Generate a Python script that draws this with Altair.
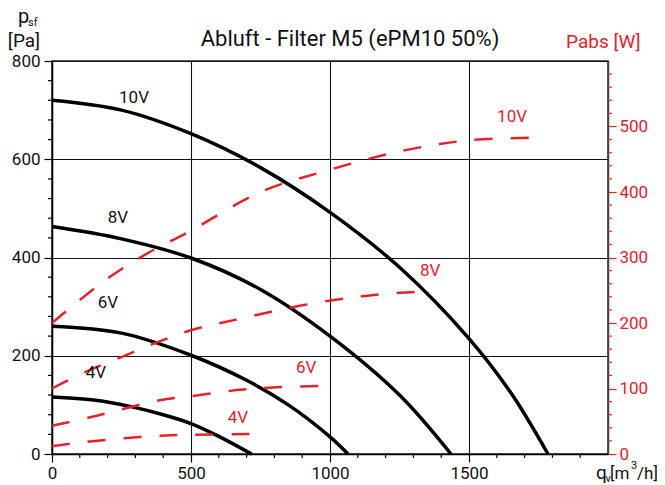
import altair as alt
import pandas as pd

RED = "#e3222b"
FONT = "Roboto"

# ---- Pressure curves p_sf [Pa] vs q_v [m3/h]
q_p10 = [0, 250, 500, 750, 1000, 1250, 1500, 1650, 1784]
p10 = [720, 700, 652, 583, 492, 380, 235, 125, 0]
q_p8 = [0, 250, 500, 750, 1000, 1250, 1435]
p8 = [463, 438, 399, 335, 240, 120, 0]
q_p6 = [0, 250, 500, 700, 850, 1000, 1065]
p6 = [260, 246, 201, 150, 100, 35, 0]
q_p4 = [0, 150, 280, 400, 500, 600, 718]
p4 = [116, 110, 97, 80, 62, 36, 0]

# ---- Power curves Pabs [W] vs q_v [m3/h]
q_w10 = [0, 200, 350, 500, 750, 1000, 1250, 1500, 1750]
w10 = [200, 268, 308, 341, 400, 434, 462, 479, 483]
q_w8 = [0, 125, 250, 375, 500, 650, 900, 1100, 1250, 1355]
w8 = [100, 126, 148, 170, 189, 204, 227, 240, 246, 248]
q_w6 = [0, 137, 388, 532, 676, 809, 1000]
w6 = [43, 56, 82, 90, 98, 102, 104]
q_w4 = [0, 112, 317, 460, 740]
w4 = [12, 18, 26, 29, 30.5]

# ---- Curve labels
lab_text = ["10V", "8V", "6V", "4V"]
lab_q = [295, 237, 201, 158]
lab_p = [725, 480, 307, 165]
rlab_q = [1655, 1360, 914, 669]
rlab_w = [515, 280, 131, 55]

# ---- Axis ticks
x_major = [0, 500, 1000, 1500]
y_major = [0, 200, 400, 600, 800]
w_major = [0, 100, 200, 300, 400, 500]
x_minor = [v for v in range(100, 2000, 100) if v % 500]
y_minor = [v for v in range(40, 800, 40) if v % 200]
w_minor = [v for v in range(20, 600, 20) if v % 100]

def frame(qs, vs, name, col):
    return pd.DataFrame({"q": qs, col: vs, "series": name})

pdf = pd.concat([frame(q_p10, p10, "10V", "p"), frame(q_p8, p8, "8V", "p"),
                 frame(q_p6, p6, "6V", "p"), frame(q_p4, p4, "4V", "p")], ignore_index=True)
wdf = pd.concat([frame(q_w10, w10, "10V", "w"), frame(q_w8, w8, "8V", "w"),
                 frame(q_w6, w6, "6V", "w"), frame(q_w4, w4, "4V", "w")], ignore_index=True)
ldf = pd.DataFrame({"q": lab_q, "p": lab_p, "t": lab_text})
rldf = pd.DataFrame({"q": rlab_q, "w": rlab_w, "t": lab_text})

W, H = 556, 393
xs = alt.Scale(domain=[0, 2000], nice=False, zero=False)
ys = alt.Scale(domain=[0, 800], nice=False)
ws = alt.Scale(domain=[0, 600], nice=False)

X_AXIS = alt.Axis(values=x_major, grid=True, title=None, tickSize=8, labelPadding=3,
                  format="d", labelFlush=False)

def xenc(field):
    return alt.X(field, scale=xs, title=None, axis=X_AXIS)

p_lines = alt.Chart(pdf).mark_line(color="black", strokeWidth=3.5, interpolate="catmull-rom").encode(
    x=xenc("q:Q"),
    y=alt.Y("p:Q", scale=ys, title=None,
            axis=alt.Axis(values=y_major, grid=True, title=None, tickSize=8, labelPadding=4,
                          orient="left", format="d", labelFlush=False)),
    detail="series:N",
)
p_labels = alt.Chart(ldf).mark_text(font=FONT, fontSize=17, color="#111").encode(
    x=xenc("q:Q"), y=alt.Y("p:Q", scale=ys, axis=None), text="t:N")

xm = alt.Chart(pd.DataFrame({"q": x_minor})).mark_rule(color="black", strokeWidth=1.2).encode(
    x=xenc("q:Q"), y=alt.value(H), y2=alt.value(H + 4))
ym = alt.Chart(pd.DataFrame({"v": y_minor})).mark_rule(color="black", strokeWidth=1.2).encode(
    y=alt.Y("v:Q", scale=ys, axis=None), x=alt.value(-4), x2=alt.value(0))

w_lines = alt.Chart(wdf).mark_line(color=RED, strokeWidth=2.5, strokeDash=[18, 18],
                                   interpolate="catmull-rom").encode(
    x=xenc("q:Q"),
    y=alt.Y("w:Q", scale=ws, title=None,
            axis=alt.Axis(orient="right", values=w_major, grid=False, title=None,
                          tickColor=RED, labelColor=RED, domainColor="#444",
                          tickSize=8, labelPadding=3, format="d", labelFlush=False)),
    detail="series:N",
)
w_halo = alt.Chart(rldf).mark_text(font=FONT, fontSize=17, color="white", stroke="white",
                                   strokeWidth=5).encode(
    x=xenc("q:Q"), y=alt.Y("w:Q", scale=ws, axis=None), text="t:N")
w_labels = alt.Chart(rldf).mark_text(font=FONT, fontSize=17, color=RED).encode(
    x=xenc("q:Q"), y=alt.Y("w:Q", scale=ws, axis=None), text="t:N")
wm = alt.Chart(pd.DataFrame({"v": w_minor})).mark_rule(color=RED, strokeWidth=1.2).encode(
    y=alt.Y("v:Q", scale=ws, axis=None), x=alt.value(W), x2=alt.value(W + 4))

def txt(s, x, y, size, color="#111", align="left"):
    return alt.Chart(pd.DataFrame({"s": [s]})).mark_text(
        font=FONT, fontSize=size, color=color, align=align, baseline="alphabetic"
    ).encode(x=alt.value(x), y=alt.value(y), text="s:N")

annots = [
    txt("Abluft - Filter M5 (ePM10 50%)", 298, -15, 22, align="center"),
    txt("p", -34, -38, 20),
    txt("sf", -24, -35.5, 11),
    txt("[Pa]", -28, -14, 19, align="center"),
    txt("Pabs [W]", 514, -13.5, 19, color=RED),
    txt("q", 544, 418, 19),
    txt("v", 553.5, 421, 11),
    txt("[m", 558, 418, 17),
    txt("3", 579, 408, 11),
    txt("/h]", 585, 418, 17),
]

chart = alt.layer(p_lines, w_lines, p_labels, xm, ym, w_halo, w_labels, wm, *annots).resolve_scale(
    y="independent"
).properties(
    width=W, height=H,
    padding={"left": 44, "top": 53, "right": 49, "bottom": 31},
    autosize=alt.AutoSizeParams(type="none"),
).configure_view(stroke="#222", strokeWidth=1.5).configure_axis(
    labelFont=FONT, labelFontSize=17, labelColor="#111",
    domainColor="black", domainWidth=1.5, tickColor="black", tickWidth=1.2,
    gridColor="#111", gridWidth=1.1, gridOpacity=1,
)

chart.save("out.html", embed_options={"renderer": "svg", "actions": False})
